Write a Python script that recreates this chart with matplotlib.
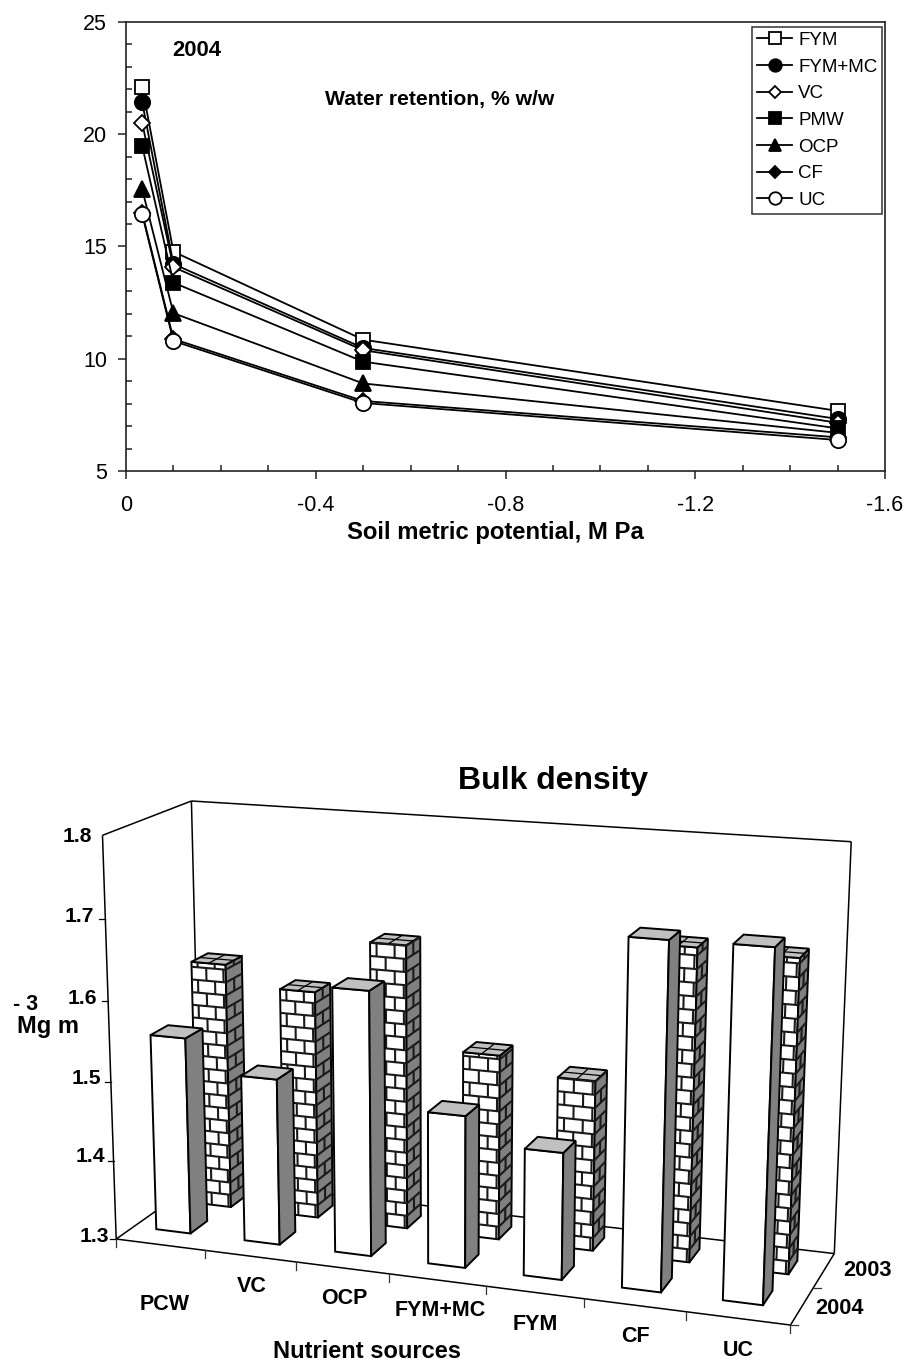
import numpy as np
import matplotlib
matplotlib.use('Agg')
import matplotlib.pyplot as plt
from matplotlib.patches import Polygon

plt.rcParams['font.family'] = ['Liberation Sans', 'DejaVu Sans']

W, H = 907, 1365

# water retention chart
potential = [-0.034, -0.1, -0.5, -1.5]
fym = [22.12, 14.77, 10.85, 7.68]
fym_mc = [21.44, 14.22, 10.48, 7.32]
vc = [20.51, 14.08, 10.38, 7.15]
pmw = [19.49, 13.39, 9.87, 6.9]
ocp = [17.56, 12.03, 8.9, 6.7]
cf = [16.5, 10.88, 8.12, 6.5]
uc = [16.45, 10.79, 8.03, 6.38]

series_names = ['FYM', 'FYM+MC', 'VC', 'PMW', 'OCP', 'CF', 'UC']
series_values = [fym, fym_mc, vc, pmw, ocp, cf, uc]
series_markers = ['s', 'o', 'D', 's', '^', 'D', 'o']
series_fill = ['white', 'black', 'white', 'black', 'black', 'black', 'white']
series_size = [10.5, 11, 8, 10.5, 11, 8, 11]

# bulk density chart
sources = ['PCW', 'VC', 'OCP', 'FYM+MC', 'FYM', 'CF', 'UC']
bulk_2004 = [1.548, 1.508, 1.627, 1.487, 1.455, 1.715, 1.716]
bulk_2003 = [1.615, 1.59, 1.658, 1.532, 1.512, 1.683, 1.68]
bulk_ticks = [1.3, 1.4, 1.5, 1.6, 1.7, 1.8]
bulk_low, bulk_high = 1.3, 1.8

fig = plt.figure(figsize=(W / 100, H / 100), dpi=100)

# ---- top chart
left, right, top, bottom = 126, 885, 22, 471
ax = fig.add_axes([left / W, 1 - bottom / H, (right - left) / W, (bottom - top) / H])
for name, vals, mk, fc, ms in zip(series_names, series_values, series_markers, series_fill, series_size):
    ax.plot(potential, vals, color='black', lw=1.3, marker=mk, mfc=fc, mec='black',
            mew=1.3, ms=ms, label=name, clip_on=False)
ax.set_xlim(0, -1.6)
ax.set_ylim(5, 25)
ax.set_xticks([0, -0.4, -0.8, -1.2, -1.6])
ax.set_xticklabels(['0', '-0.4', '-0.8', '-1.2', '-1.6'])
ax.set_yticks([5, 10, 15, 20, 25])
ax.set_xticks(np.arange(-1.5, 0, 0.1)[[i for i in range(15) if (i + 1) % 4 != 0]], minor=True)
ax.set_yticks([v for v in range(6, 25) if v % 5], minor=True)
ax.tick_params(which='major', direction='out', length=5.5, width=1.1, labelsize=15.5, color='#222222')
ax.tick_params(which='minor', direction='in', length=4.5, width=1.1, color='#222222')
ax.tick_params(axis='x', which='major', pad=12)
ax.tick_params(axis='y', which='major', pad=8)
for s in ax.spines.values():
    s.set_linewidth(1.2)
    s.set_color('#222222')
ax.set_xlabel('Soil metric potential, M Pa', fontsize=17.2, fontweight='bold', va='center')
ax.xaxis.set_label_coords((495 - left) / (right - left), (bottom - 532) / (bottom - top))
ax.text((197 - left) / (right - left), (bottom - 51) / (bottom - top), '2004', transform=ax.transAxes,
        fontsize=15.8, fontweight='bold', ha='center', va='center')
ax.text((440 - left) / (right - left), (bottom - 100) / (bottom - top), 'Water retention, % w/w',
        transform=ax.transAxes, fontsize=15.2, fontweight='bold', ha='center', va='center')
leg = ax.legend(loc='upper right', bbox_to_anchor=((882 - left) / (right - left), (bottom - 27) / (bottom - top)),
                fontsize=13.5, fancybox=False, framealpha=1, edgecolor='#333333', borderaxespad=0,
                handlelength=1.9, handletextpad=0.3, labelspacing=0.51, borderpad=0.25, markerscale=0.82)
leg.get_frame().set_linewidth(1.1)

# ---- bottom chart, everything goes through a fitted camera
# anchor points: (along categories, depth, height) -> picture position
anchors = [
    ((0, 0, 0), (118, 1237)), ((1, 0, 0), (790, 1325)), ((0, 1, 0), (199, 1180)),
    ((1, 1, 0), (834, 1253)), ((0, 0, 1), (101, 835)), ((0, 1, 1), (193, 801)),
    ((1, 1, 1), (851, 842)), ((1 / 7, 0, 0), (205, 1252)), ((6 / 7, 0, 0), (685, 1313)),
    ((1, 0.5, 0), (815, 1287)),
]
rows, rhs = [], []
for (a, b, c), (px, py) in anchors:
    rows.append([a, b, c, 1, 0, 0, 0, 0, -px * a, -px * b, -px * c])
    rows.append([0, 0, 0, 0, a, b, c, 1, -py * a, -py * b, -py * c])
    rhs += [px, py]
cam = np.linalg.lstsq(np.array(rows, float), np.array(rhs, float), rcond=None)[0]
cam = np.append(cam, 1).reshape(3, 4)


def proj(u, d, v):
    x, y, w = cam @ np.array([u, d, v, 1.0])
    return x / w, y / w


ax2 = fig.add_axes([0, 0, 1, 1], zorder=-1)
ax2.set_xlim(0, W)
ax2.set_ylim(H, 0)
ax2.axis('off')


def seg(p, q, lw=1.1, color='black', z=2):
    a, b = proj(*p), proj(*q)
    ax2.plot([a[0], b[0]], [a[1], b[1]], color=color, lw=lw, solid_capstyle='butt', zorder=z)


# walls and floor
for p, q in [((0, 0, 1), (0, 1, 1)), ((0, 1, 1), (1, 1, 1)), ((0, 0, 0), (0, 0, 1)),
             ((0, 1, 0), (0, 1, 1)), ((1, 1, 0), (1, 1, 1)), ((0, 1, 0), (1, 1, 0)),
             ((0, 0, 0), (0, 1, 0)), ((1, 0, 0), (1, 1, 0)), ((0, 0, 0), (1, 0, 0))]:
    seg(p, q)
# ticks
for t in bulk_ticks[:-1]:
    x, y = proj(0, 0, (t - bulk_low) / (bulk_high - bulk_low))
    ax2.plot([x - 6, x], [y, y], color='black', lw=0.9, zorder=2)
for i in range(8):
    x, y = proj(i / 7, 0, 0)
    ax2.plot([x, x], [y, y + 8], color='#333333', lw=0.9, zorder=2)
x, y = proj(1, 0, 0)
ax2.plot([x, x + 8], [y, y], color='#333333', lw=0.9, zorder=2)
x, y = proj(1, 0.5, 0)
ax2.plot([x, x + 8], [y, y], color='#333333', lw=0.9, zorder=2)


def poly(pts, fc, z, lw=1.4):
    xy = [proj(*p) for p in pts]
    ax2.add_patch(Polygon(xy, closed=True, fc=fc, ec='black', lw=lw, joinstyle='miter', zorder=z))


def draw_plain(u0, u1, d0, d1, v, z):
    poly([(u0, d0, 0), (u1, d0, 0), (u1, d0, v), (u0, d0, v)], 'white', z)
    poly([(u1, d0, 0), (u1, d1, 0), (u1, d1, v), (u1, d0, v)], '#808080', z)
    poly([(u0, d0, v), (u1, d0, v), (u1, d1, v), (u0, d1, v)], '#c0c0c0', z)


def draw_brick(u0, u1, d0, d1, v, z):
    poly([(u0, d0, 0), (u1, d0, 0), (u1, d0, v), (u0, d0, v)], 'white', z)
    poly([(u1, d0, 0), (u1, d1, 0), (u1, d1, v), (u1, d0, v)], '#808080', z)
    poly([(u0, d0, v), (u1, d0, v), (u1, d1, v), (u0, d1, v)], '#c0c0c0', z)
    # courses of bricks on both faces
    step = 0.0325
    t = 0
    n = 0
    du, dd = u1 - u0, d1 - d0
    while t < v:
        t2 = min(t + step, v)
        if t2 < v:
            seg((u0, d0, t2), (u1, d0, t2), lw=1.5, color='#1a1a1a', z=z)
            seg((u1, d0, t2), (u1, d1, t2), lw=1.5, color='#1a1a1a', z=z)
        for f in ((0.18, 0.68) if n % 2 else (0.43, 0.93)):
            seg((u0 + f * du, d0, t), (u0 + f * du, d0, t2), lw=1.5, color='#1a1a1a', z=z)
        if n % 2:
            seg((u1, d0 + 0.5 * dd, t), (u1, d0 + 0.5 * dd, t2), lw=1.5, color='#1a1a1a', z=z)
        t = t2
        n += 1
    # brick joints on the top
    seg((u0 + 0.5 * du, d0, v), (u0 + 0.5 * du, d1, v), lw=0.9, z=z)
    seg((u0, d0 + 0.5 * dd, v), (u1, d0 + 0.5 * dd, v), lw=0.9, z=z)


bar_w = 0.39 / 7
front_shift = -0.007
front_d = (0.2, 0.4)
back_d = (0.64, 0.84)
to_v = lambda b: (b - bulk_low) / (bulk_high - bulk_low)
for i, b in enumerate(bulk_2003):
    c = (i + 0.5) / 7
    draw_brick(c - bar_w / 2, c + bar_w / 2, back_d[0], back_d[1], to_v(b), 3 + i * 0.01)
for i, b in enumerate(bulk_2004):
    c = (i + 0.5) / 7 + front_shift
    draw_plain(c - bar_w / 2, c + bar_w / 2, front_d[0], front_d[1], to_v(b), 4 + i * 0.01)

# text
bold = dict(fontweight='bold', ha='center', va='center', color='black')
ax2.text(553, 781, 'Bulk density', fontsize=23, **bold)
for t, (tx, ty) in zip(bulk_ticks, [(94, 1237), (90, 1157), (86, 1078), (82, 998), (79, 917), (77, 836)]):
    ax2.text(tx, ty, '%.1f' % t, fontsize=15.2, **bold)
for s, (tx, ty) in zip(sources, [(165, 1304), (252, 1287), (344, 1298), (440, 1311), (535, 1324), (635, 1337), (738, 1350)]):
    ax2.text(tx, ty, s, fontsize=15.5, **bold)
ax2.text(367, 1352, 'Nutrient sources', fontsize=17, **bold)
ax2.text(868, 1271, '2003', fontsize=15.7, **bold)
ax2.text(840, 1308, '2004', fontsize=15.7, **bold)
ax2.text(26, 1004, '- 3', fontsize=15.5, **bold)
ax2.text(48, 1027, 'Mg m', fontsize=17, **bold)

fig.savefig('out.png', dpi=100, facecolor='white')
